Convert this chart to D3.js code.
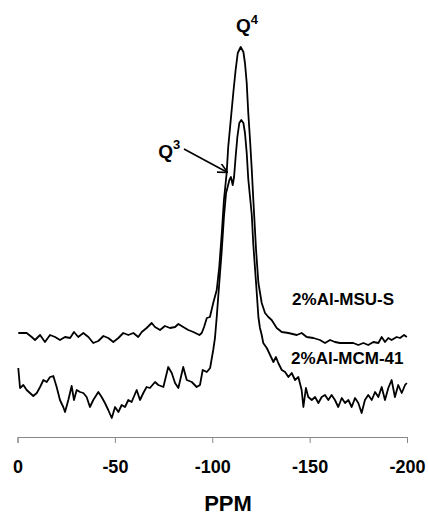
<!DOCTYPE html>
<html>
<head>
<meta charset="utf-8">
<script src="https://cdn.jsdelivr.net/npm/d3@7"></script>
<style>
  body { margin: 0; background: #fff; }
  text { font-family: "Liberation Sans", Arial, sans-serif; font-weight: bold; fill: #000; }
</style>
</head>
<body>
<div id="chart"></div>
<script>
// Sizes
const width = 428;
const height = 517;
const axisY = 437;

// Tick values on the ppm axis
const tickValues = [0, -50, -100, -150, -200];

// 2%Al-MSU-S spectrum (ppm, intensity a.u.)
const msuPpm = [-0.4, -4.7, -7.3, -9.0, -11.6, -14.1, -16.7, -19.3, -21.8, -24.4,
  -27.0, -29.0, -31.2, -33.8, -36.4, -38.9, -41.5, -44.1, -46.6, -49.2,
  -51.8, -54.3, -56.9, -59.5, -62.0, -63.8, -66.3, -68.9, -70.6, -73.2,
  -75.7, -78.3, -80.9, -82.6, -85.1, -87.7, -90.3, -93.4, -94.6, -95.8,
  -97.2, -98.8, -100.5, -102.3, -103.6, -104.9, -106.0, -107.4, -108.2, -109.5,
  -110.8, -112.0, -113.1, -114.6, -116.0, -116.8, -117.7, -118.5, -119.4, -120.3,
  -121.1, -122.5, -123.7, -125.4, -127.1, -128.8, -130.5, -133.1, -135.7, -139.1,
  -143.4, -145.9, -148.5, -151.9, -155.3, -157.9, -160.5, -163.0, -165.6, -169.0,
  -172.4, -175.0, -177.6, -180.1, -182.7, -185.3, -187.0, -188.7, -190.4, -192.1,
  -194.7, -196.4, -198.5, -199.9];
const msuInt = [104, 104, 100, 97, 102, 95, 102, 100, 97, 100,
  99, 105, 100, 104, 100, 94, 96, 101, 99, 95,
  99, 104, 102, 104, 100, 105, 109, 114, 110, 107,
  111, 109, 110, 113, 110, 107, 105, 102, 104, 110,
  119, 120, 134, 147, 170, 204, 237, 264, 290, 317,
  344, 367, 384, 390, 385, 374, 354, 324, 297, 267,
  237, 187, 154, 134, 124, 120, 117, 109, 105, 104,
  102, 104, 100, 99, 97, 94, 97, 95, 94, 94,
  94, 92, 94, 92, 95, 94, 100, 95, 99, 97,
  100, 99, 102, 100];

// 2%Al-MCM-41 spectrum
const mcmPpm = [-0.4, -1.3, -3.0, -4.7, -6.4, -8.1, -9.9, -11.6, -13.3, -15.0,
  -16.7, -18.4, -20.1, -21.8, -23.5, -24.4, -26.1, -27.8, -29.0, -30.4,
  -32.1, -33.8, -35.5, -37.2, -38.9, -41.5, -43.2, -44.9, -46.6, -48.4,
  -50.1, -51.8, -53.5, -55.2, -56.9, -58.6, -61.2, -62.9, -64.6, -66.3,
  -68.0, -70.6, -72.3, -74.9, -77.4, -79.2, -80.9, -82.6, -85.1, -86.9,
  -89.5, -92.0, -93.7, -95.1, -97.2, -98.9, -100.5, -101.4, -102.3, -103.6,
  -104.9, -106.0, -107.1, -107.9, -108.8, -109.6, -110.5, -111.2, -112.0, -112.9,
  -113.9, -114.9, -116.0, -116.8, -117.7, -118.5, -119.5, -120.3, -121.1, -122.5,
  -123.7, -124.5, -125.4, -126.2, -128.0, -129.7, -131.4, -132.7, -133.9, -135.7,
  -137.4, -139.1, -140.8, -142.5, -144.2, -145.9, -146.8, -148.1, -149.3, -151.1,
  -152.8, -154.5, -156.2, -157.9, -159.6, -161.3, -163.0, -164.7, -166.5, -168.2,
  -169.9, -171.6, -173.3, -175.0, -176.7, -178.4, -180.1, -181.9, -183.6, -185.3,
  -187.0, -188.7, -190.4, -192.1, -193.8, -195.5, -197.3, -199.0, -199.9];
const mcmInt = [69, 49, 52, 47, 44, 41, 44, 50, 57, 55,
  60, 61, 50, 37, 30, 25, 37, 51, 37, 47,
  45, 44, 40, 30, 37, 45, 40, 34, 27, 19,
  30, 25, 32, 30, 37, 35, 47, 37, 44, 50,
  49, 55, 52, 50, 70, 64, 54, 49, 70, 57,
  55, 50, 52, 67, 65, 69, 87, 99, 120, 154,
  187, 220, 244, 250, 257, 260, 252, 260, 280, 300,
  314, 317, 314, 304, 284, 258, 238, 222, 192, 154,
  120, 109, 102, 94, 89, 82, 75, 80, 74, 67,
  65, 60, 64, 57, 60, 47, 30, 49, 40, 37,
  40, 34, 40, 42, 37, 42, 37, 30, 39, 34,
  37, 30, 39, 34, 24, 37, 42, 37, 45, 40,
  50, 37, 49, 57, 40, 52, 44, 52, 54];

const series = [
  { name: "2%Al-MSU-S", ppm: msuPpm, val: msuInt },
  { name: "2%Al-MCM-41", ppm: mcmPpm, val: mcmInt }
];

// Scales
let xScale = d3.scaleLinear()
  .domain([0, -200])
  .range([17.5, 407]);
let yScale = d3.scaleLinear()
  .domain([0, 400])
  .range([axisY, 37]);

let svg = d3.select("#chart")
  .append("svg")
  .attr("width", width)
  .attr("height", height);

let line = d3.line()
  .x(d => xScale(d[0]))
  .y(d => yScale(d[1]));

svg.selectAll("path.spectrum")
  .data(series)
  .enter()
  .append("path")
  .attr("class", "spectrum")
  .attr("fill", "none")
  .attr("stroke", "#000")
  .attr("stroke-width", 1.8)
  .attr("stroke-linejoin", "round")
  .attr("d", s => line(s.ppm.map((p, i) => [p, s.val[i]])));

// Axis
let xAxis = svg.append("g")
  .attr("transform", "translate(0," + axisY + ")")
  .call(d3.axisBottom(xScale).tickValues(tickValues).tickSize(6).tickFormat(d3.format("d")));
xAxis.select(".domain").attr("stroke", "#888");
xAxis.selectAll(".tick line").attr("stroke", "#888");
xAxis.selectAll(".tick text")
  .attr("y", 36)
  .attr("dy", null)
  .style("font-size", "18px")
  .style("font-family", "'Liberation Sans', Arial, sans-serif")
  .style("font-weight", "bold")
  .attr("fill", "#000")
  .text(d => d === 0 ? "0" : "-" + Math.abs(d));

svg.append("text")
  .attr("x", 228)
  .attr("y", 511)
  .attr("text-anchor", "middle")
  .style("font-size", "22px")
  .text("PPM");

// Series labels
svg.append("text")
  .attr("x", xScale(-141))
  .attr("y", yScale(132))
  .style("font-size", "17px")
  .text(series[0].name);
svg.append("text")
  .attr("x", xScale(-140.5))
  .attr("y", yScale(73))
  .style("font-size", "17px")
  .text(series[1].name);

// Peak labels
let q4 = svg.append("text")
  .attr("x", xScale(-112.2))
  .attr("y", yScale(405))
  .style("font-size", "19px");
q4.append("tspan").text("Q");
q4.append("tspan").attr("dy", -8).style("font-size", "13px").text("4");

let q3 = svg.append("text")
  .attr("x", xScale(-72.3))
  .attr("y", yScale(279))
  .style("font-size", "19px");
q3.append("tspan").text("Q");
q3.append("tspan").attr("dy", -9).style("font-size", "13px").text("3");

// Arrow to Q3 shoulder
svg.append("defs").append("marker")
  .attr("id", "arrow")
  .attr("viewBox", "0 0 10 10")
  .attr("refX", 9)
  .attr("refY", 5)
  .attr("markerWidth", 10)
  .attr("markerHeight", 10)
  .attr("markerUnits", "userSpaceOnUse")
  .attr("orient", "auto")
  .append("path")
  .attr("d", "M0,0 L10,5 L0,10")
  .attr("fill", "none")
  .attr("stroke", "#000")
  .attr("stroke-width", 1.6);

svg.append("line")
  .attr("x1", xScale(-85.5))
  .attr("y1", yScale(288))
  .attr("x2", xScale(-107.4))
  .attr("y2", yScale(265))
  .attr("stroke", "#000")
  .attr("stroke-width", 1.6)
  .attr("marker-end", "url(#arrow)");
</script>
</body>
</html>
